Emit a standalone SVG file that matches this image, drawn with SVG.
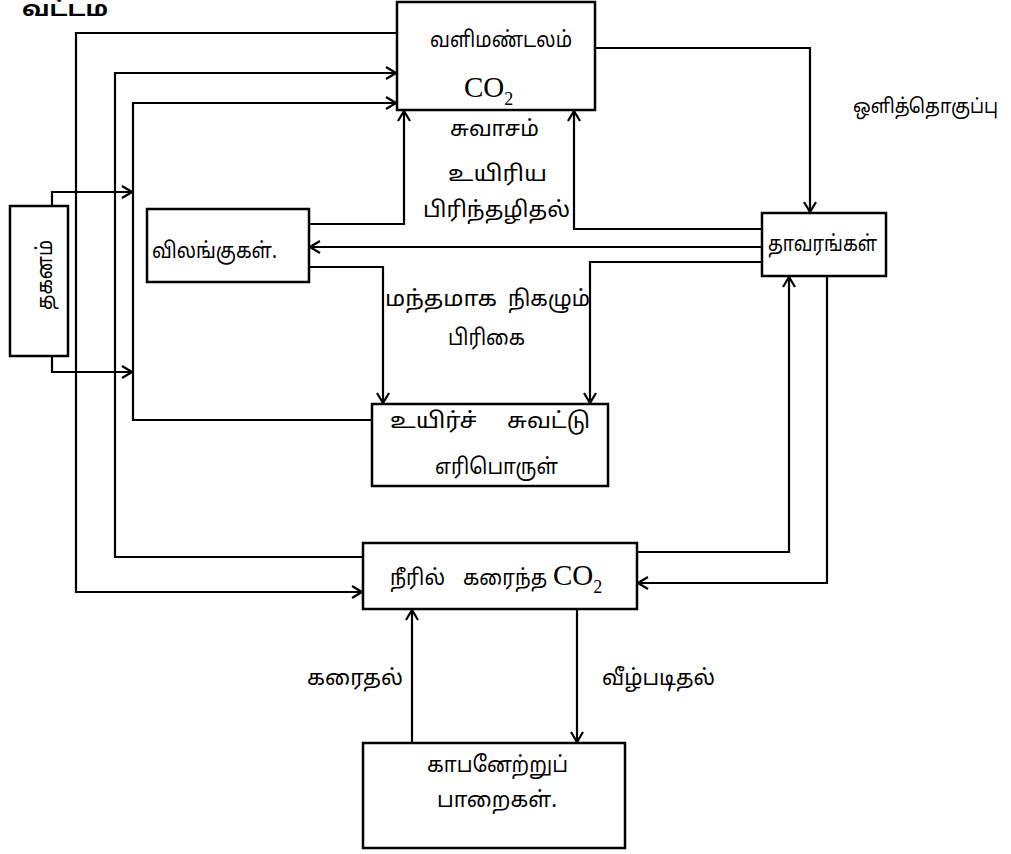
<svg xmlns="http://www.w3.org/2000/svg" width="1011" height="854" viewBox="0 0 1011 854">
<style>
.box{fill:#fff;stroke:#000;stroke-width:2.5}
.c{fill:none;stroke:#000;stroke-width:2.2}
.t{font-family:"Noto Sans Tamil","Noto Serif Tamil","Lohit Tamil","Latha","Noto Sans",sans-serif;font-size:22px;fill:#000}
.m{text-anchor:middle}
.co{font-family:"Liberation Serif","Times New Roman",serif;font-size:29px;fill:#000}
.sub{font-size:18px}
.title{font-family:"Noto Sans Tamil","Liberation Sans","Noto Sans",sans-serif;font-size:21px;font-weight:bold;fill:#000}
</style>
<defs>
<marker id="a" markerWidth="12" markerHeight="14" refX="11" refY="7" orient="auto" markerUnits="userSpaceOnUse">
<path d="M1,1 L11,7 L1,13" fill="none" stroke="#000" stroke-width="2.2"/>
</marker>
</defs>
<text class="title" x="22" y="16" textLength="86" lengthAdjust="spacingAndGlyphs">வட்டம</text>
<g id="connectors">
<polyline class="c" points="397,33 76,33 76,592 362,592" marker-end="url(#a)"/>
<polyline class="c" points="363,557 115,557 115,73 396,73" marker-end="url(#a)"/>
<polyline class="c" points="372,420 133,420 133,103 396,103" marker-end="url(#a)"/>
<polyline class="c" points="52,206 52,192 132,192" marker-end="url(#a)"/>
<polyline class="c" points="52,356 52,372 132,372" marker-end="url(#a)"/>
<polyline class="c" points="309,224 404,224 404,111" marker-end="url(#a)"/>
<polyline class="c" points="762,229 574,229 574,111" marker-end="url(#a)"/>
<polyline class="c" points="762,247 310,247" marker-end="url(#a)"/>
<polyline class="c" points="309,267 383,267 383,403" marker-end="url(#a)"/>
<polyline class="c" points="762,262 590,262 590,403" marker-end="url(#a)"/>
<polyline class="c" points="595,48 810,48 810,212" marker-end="url(#a)"/>
<polyline class="c" points="637,552 789,552 789,277" marker-end="url(#a)"/>
<polyline class="c" points="827,276 827,583 638,583" marker-end="url(#a)"/>
<polyline class="c" points="412,743 412,610" marker-end="url(#a)"/>
<polyline class="c" points="577,609 577,742" marker-end="url(#a)"/>
</g>
<g id="labels">
<text class="t" x="853" y="113" style="font-size:20px" textLength="145" lengthAdjust="spacingAndGlyphs">ஒளித்தொகுப்பு</text>
<text class="t" x="450" y="136" textLength="89" lengthAdjust="spacingAndGlyphs">சுவாசம்</text>
<text class="t" x="448" y="181" textLength="99" lengthAdjust="spacingAndGlyphs">உயிரிய</text>
<text class="t" x="423" y="217" textLength="147" lengthAdjust="spacingAndGlyphs">பிரிந்தழிதல்</text>
<text class="t" x="385" y="306" textLength="112" lengthAdjust="spacingAndGlyphs">மந்தமாக</text>
<text class="t" x="508" y="306" textLength="82" lengthAdjust="spacingAndGlyphs">நிகழும்</text>
<text class="t" x="448" y="345" textLength="77" lengthAdjust="spacingAndGlyphs">பிரிகை</text>
<text class="t" x="307" y="685" textLength="96" lengthAdjust="spacingAndGlyphs">கரைதல்</text>
<text class="t" x="602" y="685" textLength="113" lengthAdjust="spacingAndGlyphs">வீழ்படிதல்</text>
</g>
<g id="atmosphere">
<rect class="box" x="397" y="2" width="198" height="108"/>
<text class="t" x="430" y="47" textLength="142" lengthAdjust="spacingAndGlyphs">வளிமண்டலம்</text>
<text class="co" x="464" y="97">CO<tspan class="sub" dy="8">2</tspan></text>
</g>
<g id="combustion">
<rect class="box" x="10" y="206" width="58" height="150"/>
<text class="t" transform="translate(45,310) rotate(-90)" x="0" y="7" textLength="70" lengthAdjust="spacingAndGlyphs">தகனம்</text>
</g>
<g id="animals">
<rect class="box" x="147" y="209" width="162" height="73"/>
<text class="t" x="152" y="258" textLength="125" lengthAdjust="spacingAndGlyphs">விலங்குகள்.</text>
</g>
<g id="plants">
<rect class="box" x="762" y="213" width="124" height="63"/>
<text class="t" x="768" y="251" textLength="109" lengthAdjust="spacingAndGlyphs">தாவரங்கள்</text>
</g>
<g id="fossil">
<rect class="box" x="372" y="404" width="236" height="82"/>
<text class="t" x="390" y="428" textLength="87" lengthAdjust="spacingAndGlyphs">உயிர்ச்</text>
<text class="t" x="507" y="428" textLength="83" lengthAdjust="spacingAndGlyphs">சுவட்டு</text>
<text class="t" x="435" y="474" textLength="123" lengthAdjust="spacingAndGlyphs">எரிபொருள்</text>
</g>
<g id="water">
<rect class="box" x="363" y="543" width="274" height="66"/>
<text class="t" x="390" y="585" textLength="55" lengthAdjust="spacingAndGlyphs">நீரில்</text>
<text class="t" x="463" y="585" textLength="84" lengthAdjust="spacingAndGlyphs">கரைந்த</text>
<text class="co" x="553" y="585">CO<tspan class="sub" dy="8">2</tspan></text>
</g>
<g id="rocks">
<rect class="box" x="363" y="743" width="262" height="105"/>
<text class="t" x="427" y="772" textLength="141" lengthAdjust="spacingAndGlyphs">காபனேற்றுப்</text>
<text class="t" x="437" y="807" textLength="120" lengthAdjust="spacingAndGlyphs">பாறைகள்.</text>
</g>
</svg>
